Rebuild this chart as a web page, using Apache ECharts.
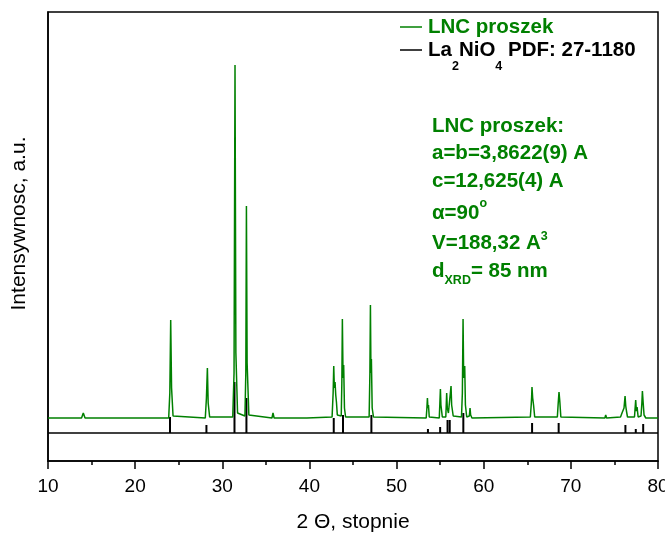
<!DOCTYPE html>
<html>
<head>
<meta charset="utf-8">
<script src="https://cdn.jsdelivr.net/npm/echarts@6/dist/echarts.min.js"></script>
<style>html,body{margin:0;padding:0;background:#fff;overflow:hidden}#c{width:665px;height:535px}</style>
</head>
<body>
<div id="c"></div>
<script>
// Measured XRD pattern of "LNC proszek" (2θ in degrees, intensity in arbitrary units)
const PATTERN_2THETA = [10.0,13.85,14.05,14.25,23.85,23.98,24.08,24.18,24.35,28.05,28.18,28.29,28.38,28.55,31.2,31.35,31.46,31.56,31.75,32.6,32.7,32.77,32.85,33.05,35.7,35.82,35.95,39.4,39.55,39.7,42.6,42.72,42.79,42.86,42.94,43.02,43.1,43.2,43.65,43.72,43.78,43.86,43.93,44.02,44.15,46.85,46.94,47.0,47.06,47.11,47.2,47.35,53.4,53.48,53.54,53.6,53.66,53.75,54.9,54.97,55.03,55.09,55.15,55.25,55.65,55.75,55.82,55.95,56.15,56.25,56.32,56.4,56.5,57.45,57.55,57.63,57.7,57.82,57.9,58.05,58.35,58.43,58.5,58.65,65.35,65.45,65.5,65.54,65.62,65.72,65.85,68.45,68.55,68.64,68.73,68.85,73.9,74.0,74.1,75.7,75.87,76.0,76.1,76.22,76.3,76.38,76.5,77.3,77.44,77.52,77.6,77.72,78.05,78.15,78.21,78.3,78.4,78.6,80.0];
const PATTERN_I      = [15,15,20,15,15,40,113,45,17,15,35,65,30,16,16,60,368,80,20,17,60,227,70,18,15,20,15,15,17,15,16,40,67,45,51,38,31,18,17,50,114,55,68,25,16,16,60,128,60,74,25,16,15,25,35,25,28,16,15,30,44,28,30,16,16,40,25,20,22,47,28,30,17,16,40,114,55,67,28,16,17,25,18,15,16,28,36,46,35,28,16,16,30,41,32,16,15,18,15,16,20,18,25,37,27,22,16,16,33,22,26,16,17,30,42,30,18,15,15];

// Reference pattern La2NiO4 PDF 27-1180 (stick positions and relative heights)
const STICK_2THETA = [24.0,28.18,31.4,32.77,42.79,43.85,47.11,53.6,55.0,55.85,56.1,57.66,65.55,68.6,76.26,77.45,78.3];
const STICK_I      = [16,8,51,35,15,18,18,4,6,13,13,20,10,10,8,4,9];

// Axis settings
const X_MIN = 10, X_MAX = 80, X_STEP = 10;
const Y_MIN = -28, Y_MAX = 421;

const GREEN = '#008000';
const FONT = 'Arial, "Liberation Sans", Helvetica, sans-serif';
const FS = 20.5;

const chart = echarts.init(document.getElementById('c'), null, {renderer: 'canvas'});

const patternData = PATTERN_2THETA.map((x, i) => [x, PATTERN_I[i]]);
const stickData = STICK_2THETA.map((x, i) => [x, STICK_I[i]]);

const boldTxt = (x, y, text, fill, rich) => ({
  type: 'text', x: x, y: y, silent: true,
  style: {
    text: text, fill: fill, fontFamily: FONT, fontWeight: 'bold', fontSize: FS,
    verticalAlign: 'middle', align: 'left', rich: rich || {}
  }
});
const mainTok = (fill, lh) => ({fontSize: FS, fontWeight: 'bold', fontFamily: FONT, fill: fill, lineHeight: lh});
const smallTok = (fill, lh, va) => ({fontSize: 12.5, fontWeight: 'bold', fontFamily: FONT, fill: fill, lineHeight: lh, verticalAlign: va});

const option = {
  animation: false,
  backgroundColor: '#fff',
  grid: {
    left: 48, right: 7, top: 12, bottom: 74,
    outerBoundsMode: 'none', containLabel: false,
    show: true, borderColor: '#000', borderWidth: 1.5, backgroundColor: 'transparent'
  },
  xAxis: {
    type: 'value', min: X_MIN, max: X_MAX, interval: X_STEP,
    axisLine: {show: true, onZero: false, lineStyle: {color: '#000', width: 1.5}},
    axisTick: {show: true, inside: false, length: 8, lineStyle: {color: '#000', width: 1.5}},
    minorTick: {show: true, splitNumber: 2, length: 4, lineStyle: {color: '#000', width: 1.5}},
    splitLine: {show: false},
    axisLabel: {color: '#000', fontSize: 19, fontFamily: FONT, margin: 16, hideOverlap: false},
    name: '2 Θ, stopnie', nameLocation: 'middle', nameGap: 51,
    nameTextStyle: {color: '#000', fontSize: 21, fontFamily: FONT}
  },
  yAxis: {
    type: 'value', min: Y_MIN, max: Y_MAX,
    axisLine: {show: true, onZero: false, lineStyle: {color: '#000', width: 1.5}},
    axisTick: {show: false}, axisLabel: {show: false}, splitLine: {show: false},
    name: 'Intensywnosc, a.u.', nameLocation: 'middle', nameGap: 18, nameRotate: 90,
    nameTextStyle: {color: '#000', fontSize: 21, fontFamily: FONT, padding: [0, 0, 0, 26]}
  },
  series: [
    {
      name: 'La2NiO4 PDF: 27-1180', type: 'custom', z: 2,
      data: stickData,
      renderItem: function (params, api) {
        const p0 = api.coord([api.value(0), 0]);
        const p1 = api.coord([api.value(0), api.value(1)]);
        return {type: 'line', shape: {x1: p0[0], y1: p0[1], x2: p1[0], y2: p1[1]}, style: {stroke: '#000', lineWidth: 2}};
      },
      markLine: {
        silent: true, symbol: 'none', label: {show: false},
        lineStyle: {color: '#000', width: 1.5, type: 'solid'},
        data: [{yAxis: 0}]
      }
    },
    {
      name: 'LNC proszek', type: 'line', z: 3,
      data: patternData, symbol: 'none', showSymbol: false,
      lineStyle: {color: GREEN, width: 1.5}
    }
  ],
  graphic: [
    // legend
    {type: 'line', silent: true, shape: {x1: 400, y1: 27, x2: 422, y2: 27}, style: {stroke: GREEN, lineWidth: 1.5}},
    {type: 'line', silent: true, shape: {x1: 400, y1: 50, x2: 422, y2: 50}, style: {stroke: '#000', lineWidth: 1.5}},
    boldTxt(428, 27, 'LNC proszek', GREEN),
    boldTxt(428, 50, '{m|La}{s|2}{m|NiO}{s|4}{m| PDF: 27-1180}', '#000', {
      m: mainTok('#000', 46), s: smallTok('#000', 12, 'bottom')
    }),
    // annotation
    boldTxt(432, 126, 'LNC proszek:', GREEN),
    boldTxt(432, 153, 'a=b=3,8622(9) A', GREEN),
    boldTxt(432, 181, 'c=12,625(4) A', GREEN),
    boldTxt(432, 213, '{m|α=90}{p|o}', GREEN, {m: mainTok(GREEN, 31), p: smallTok(GREEN, 11, 'top')}),
    boldTxt(432, 243, '{m|V=188,32 A}{p|3}', GREEN, {m: mainTok(GREEN, 26), p: smallTok(GREEN, 12, 'top')}),
    boldTxt(432, 271, '{m|d}{s|XRD}{m|= 85 nm}', GREEN, {m: mainTok(GREEN, 32), s: smallTok(GREEN, 10, 'bottom')})
  ]
};
chart.setOption(option);
</script>
</body>
</html>
